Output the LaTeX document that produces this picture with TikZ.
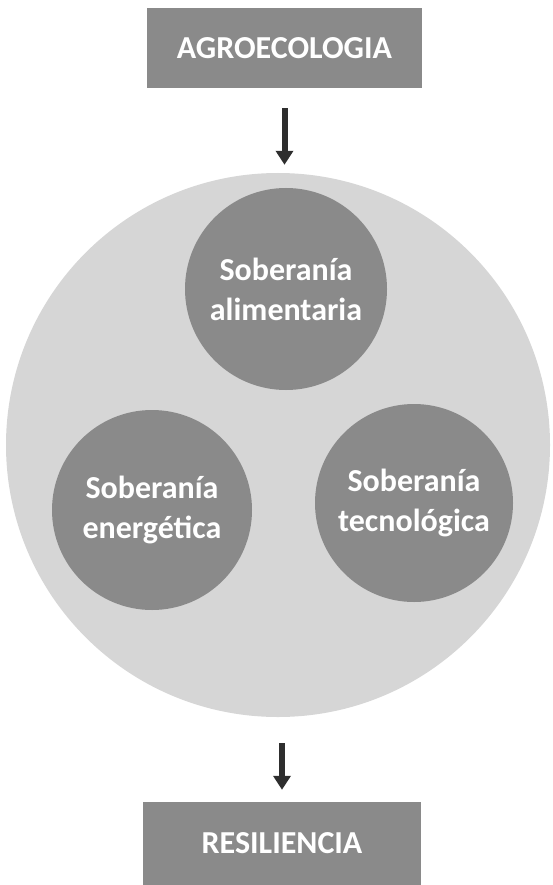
\documentclass[tikz,border=0pt]{standalone}
\usepackage{fontspec}
\setmainfont{Carlito}
\usetikzlibrary{arrows.meta}

\definecolor{boxgray}{HTML}{8A8A8A}
\definecolor{ringgray}{HTML}{D6D6D6}
\definecolor{arrowgray}{HTML}{2E2E2E}

\begin{document}
\begin{tikzpicture}[x=1pt, y=-1pt,
		titlebox/.style={rectangle, fill=boxgray, text=white, inner sep=0pt,
			font=\fontsize{32}{36}\selectfont\bfseries},
		sovcircle/.style={circle, fill=boxgray, text=white, inner sep=0pt, align=center,
			font=\fontsize{32}{40}\selectfont\bfseries},
		flow/.style={arrowgray, line width=6pt, -{Triangle[width=17pt,length=14pt]}}]
				\useasboundingbox (0,0) rectangle (552,885);
				
				% boxes
				\node[titlebox, minimum width=275pt, minimum height=80pt] (agro) at (284.5,48) {AGROECOLOGIA};
				\node[titlebox, minimum width=278pt, minimum height=83pt] (resil) at (282,843.5) {RESILIENCIA};
				
				% circles
				\node[circle, fill=ringgray, minimum size=544pt, inner sep=0pt] (ring) at (278,445) {};
				\node[sovcircle, minimum size=202pt] (alim) at (286,289) {Soberanía\\alimentaria};
				\node[sovcircle, minimum size=200pt] (energ) at (152,510) {Soberanía\\energética};
				\node[sovcircle, minimum size=198pt] (tecno) at (414,503) {Soberanía\\tecnológica};
				
				% arrows
				\draw[flow, shorten <=20pt, shorten >=8pt] (agro.south) -- (agro.south |- ring.north);
				\draw[flow, shorten <=26pt, shorten >=12pt] (resil.north |- ring.south) -- (resil.north);
\end{tikzpicture}
\end{document}
